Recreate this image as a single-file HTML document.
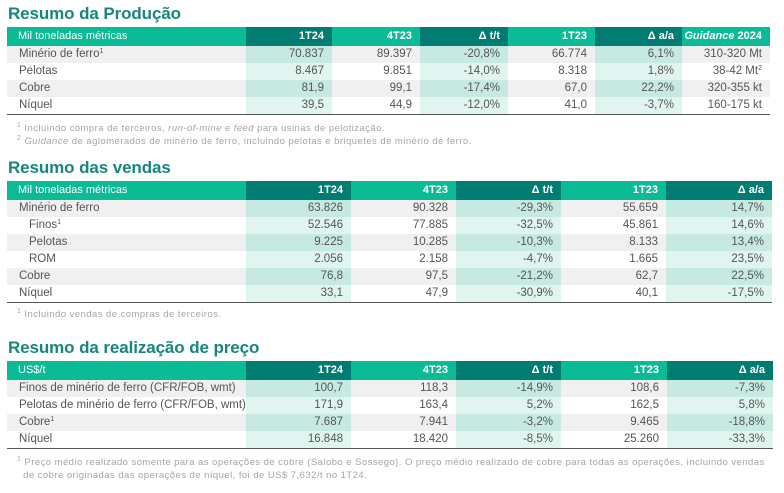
<!DOCTYPE html>
<html><head><meta charset="utf-8"><style>
*{margin:0;padding:0;box-sizing:border-box}
body{width:784px;height:493px;background:#fff;position:relative;font-family:"Liberation Sans",sans-serif;overflow:hidden}
.t{position:absolute;left:8px;font-weight:bold;font-size:17px;color:#17877c;letter-spacing:-0.1px}
table{position:absolute;left:7px;border-collapse:collapse;table-layout:fixed;font-size:11.5px;color:#555}
td{height:17px;padding:0 8px 0 0;text-align:right;white-space:nowrap;line-height:17px}
td.l{text-align:left;padding-left:12px}
td.s{padding-left:22px}
tr.h td{background:#0bbb95;color:#fff;font-weight:bold;height:19px;font-size:11px}
tr.h td.d{background:#007c72}
tr.h td.l{font-weight:normal;padding-left:11px}
tr.g td{background:#f0f0f0}
tr.g td.d{background:#c6eae1}
tr.w td.d{background:#e1f5f0}
tr.last td{border-bottom:1.5px solid #555}
.f{position:absolute;left:17px;font-size:9.5px;color:#a5a5a5;line-height:13px;letter-spacing:0.45px;white-space:nowrap}
sup{font-size:7px;vertical-align:4px;line-height:0}
table sup{letter-spacing:0}
</style></head><body>
<div class="t" style="top:4px">Resumo da Produção</div>
<table style="top:27px;width:763px">
<colgroup><col style="width:239px"><col style="width:86px"><col style="width:88px"><col style="width:88px"><col style="width:87px"><col style="width:87px"><col style="width:88px"></colgroup>
<tr class="h"><td class="l">Mil toneladas métricas</td><td class="d">1T24</td><td>4T23</td><td class="d">Δ t/t</td><td>1T23</td><td class="d">Δ a/a</td><td><i>Guidance</i> 2024</td></tr>
<tr class="g"><td class="l">Minério de ferro<sup>1</sup></td><td class="d">70.837</td><td>89.397</td><td class="d">-20,8%</td><td>66.774</td><td class="d">6,1%</td><td>310-320 Mt</td></tr>
<tr class="w"><td class="l">Pelotas</td><td class="d">8.467</td><td>9.851</td><td class="d">-14,0%</td><td>8.318</td><td class="d">1,8%</td><td>38-42 Mt<sup>2</sup></td></tr>
<tr class="g"><td class="l">Cobre</td><td class="d">81,9</td><td>99,1</td><td class="d">-17,4%</td><td>67,0</td><td class="d">22,2%</td><td>320-355 kt</td></tr>
<tr class="w last"><td class="l">Níquel</td><td class="d">39,5</td><td>44,9</td><td class="d">-12,0%</td><td>41,0</td><td class="d">-3,7%</td><td>160-175 kt</td></tr>
</table>
<div class="f" style="top:122px"><sup>1</sup> Incluindo compra de terceiros, <i>run-of-mine</i> e <i>feed</i> para usinas de pelotização.<br><sup>2</sup> <i>Guidance</i> de aglomerados de minério de ferro, incluindo pelotas e briquetes de minério de ferro.</div>

<div class="t" style="top:158px">Resumo das vendas</div>
<table style="top:181px;width:765px">
<colgroup><col style="width:239px"><col style="width:105px"><col style="width:105px"><col style="width:105px"><col style="width:105px"><col style="width:106px"></colgroup>
<tr class="h"><td class="l">Mil toneladas métricas</td><td class="d">1T24</td><td>4T23</td><td class="d">Δ t/t</td><td>1T23</td><td class="d">Δ a/a</td></tr>
<tr class="g"><td class="l">Minério de ferro</td><td class="d">63.826</td><td>90.328</td><td class="d">-29,3%</td><td>55.659</td><td class="d">14,7%</td></tr>
<tr class="w"><td class="l s">Finos<sup>1</sup></td><td class="d">52.546</td><td>77.885</td><td class="d">-32,5%</td><td>45.861</td><td class="d">14,6%</td></tr>
<tr class="g"><td class="l s">Pelotas</td><td class="d">9.225</td><td>10.285</td><td class="d">-10,3%</td><td>8.133</td><td class="d">13,4%</td></tr>
<tr class="w"><td class="l s">ROM</td><td class="d">2.056</td><td>2.158</td><td class="d">-4,7%</td><td>1.665</td><td class="d">23,5%</td></tr>
<tr class="g"><td class="l">Cobre</td><td class="d">76,8</td><td>97,5</td><td class="d">-21,2%</td><td>62,7</td><td class="d">22,5%</td></tr>
<tr class="w last"><td class="l">Níquel</td><td class="d">33,1</td><td>47,9</td><td class="d">-30,9%</td><td>40,1</td><td class="d">-17,5%</td></tr>
</table>
<div class="f" style="top:308px"><sup>1</sup> Incluindo vendas de compras de terceiros.</div>

<div class="t" style="top:338px">Resumo da realização de preço</div>
<table style="top:361px;width:766px">
<colgroup><col style="width:239px"><col style="width:105px"><col style="width:105px"><col style="width:105px"><col style="width:106px"><col style="width:106px"></colgroup>
<tr class="h"><td class="l">US$/t</td><td class="d">1T24</td><td>4T23</td><td class="d">Δ t/t</td><td>1T23</td><td class="d">Δ a/a</td></tr>
<tr class="g"><td class="l">Finos de minério de ferro (CFR/FOB, wmt)</td><td class="d">100,7</td><td>118,3</td><td class="d">-14,9%</td><td>108,6</td><td class="d">-7,3%</td></tr>
<tr class="w"><td class="l">Pelotas de minério de ferro (CFR/FOB, wmt)</td><td class="d">171,9</td><td>163,4</td><td class="d">5,2%</td><td>162,5</td><td class="d">5,8%</td></tr>
<tr class="g"><td class="l">Cobre<sup>1</sup></td><td class="d">7.687</td><td>7.941</td><td class="d">-3,2%</td><td>9.465</td><td class="d">-18,8%</td></tr>
<tr class="w last"><td class="l">Níquel</td><td class="d">16.848</td><td>18.420</td><td class="d">-8,5%</td><td>25.260</td><td class="d">-33,3%</td></tr>
</table>
<div class="f" style="top:456px"><sup>1</sup> Preço médio realizado somente para as operações de cobre (Salobo e Sossego). O preço médio realizado de cobre para todas as operações, incluindo vendas<br>&nbsp;&nbsp;de cobre originadas das operações de níquel, foi de US$ 7,632/t no 1T24.</div>
</body></html>
